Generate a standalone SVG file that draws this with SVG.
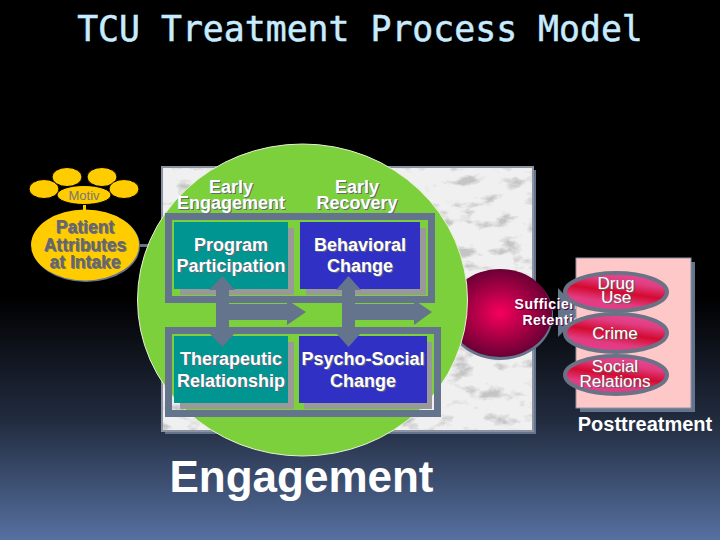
<svg xmlns="http://www.w3.org/2000/svg" width="720" height="540" viewBox="0 0 720 540">
<style>
text{font-family:"Liberation Sans",Arial,sans-serif;text-anchor:middle}
.wn{fill:#fff;font-size:17px;text-shadow:1px 1px 0 #666}
.s{fill:#fff;font-size:18px;font-weight:700;text-shadow:1px 1px 0 #667}
.y{fill:#666;font-weight:700;font-size:17.500px;text-shadow:1px 1px 0 #777}
.fr{fill:none;stroke:#64748c;stroke-width:7}
.ar{fill:#64748c}
.yl{fill:#fc0}
.ov{fill:url(#red);stroke:#6b7286;stroke-width:4}
.sr{font-size:14px;font-weight:700;fill:#fff;letter-spacing:.5px;text-shadow:1px 1px 0 #503}
</style>
<defs>
<linearGradient id="bg" x1="0" y1="0" x2="0" y2="1"><stop offset="0.55" stop-color="#000"/><stop offset="0.78" stop-color="#222c40"/><stop offset="1" stop-color="#5670a0"/></linearGradient>
<radialGradient id="sph" cx="0.5" cy="0.5" r="0.55"><stop offset="0" stop-color="#f8005c"/><stop offset="1" stop-color="#5c0030"/></radialGradient>
<linearGradient id="red" x1="0.7" y1="0" x2="0.3" y2="1"><stop offset="0" stop-color="#e84c98"/><stop offset="0.25" stop-color="#e03c80"/><stop offset="0.5" stop-color="#d40a30"/><stop offset="0.75" stop-color="#e03c80"/><stop offset="1" stop-color="#e83c90"/></linearGradient>
<filter id="marble" x="0" y="0" width="1" height="1"><feTurbulence type="fractalNoise" baseFrequency="0.04 0.07" numOctaves="6" seed="11"/><feColorMatrix values="0 0 0 0 0.55 0 0 0 0 0.55 0 0 0 0 0.55 4.500 0 0 0 -2.400"/><feComposite in2="SourceGraphic" operator="in" result="n"/><feMerge><feMergeNode in="SourceGraphic"/><feMergeNode in="n"/></feMerge></filter>
</defs>
<rect width="720" height="540" fill="url(#bg)"/>
<text x="360" y="41" style="font-family:'DejaVu Sans Mono',monospace;font-size:34.800px;fill:#c8ecff;stroke:#c8ecff;stroke-width:.5">TCU Treatment Process Model</text>
<g id="attributes">
<rect x="140" y="244" width="14" height="3" fill="#64748c"/>
<rect x="83" y="204" width="3" height="10" fill="#fc0"/>
<g stroke="#000" stroke-width="1"><ellipse class="yl" cx="44" cy="189" rx="15" ry="9.500"/><ellipse class="yl" cx="67" cy="177" rx="15" ry="9.500"/><ellipse class="yl" cx="102" cy="177" rx="15" ry="9.500"/><ellipse class="yl" cx="124" cy="189" rx="15" ry="9.500"/><ellipse class="yl" cx="84" cy="195" rx="27" ry="9.500"/></g>
<text x="84" y="200" style="font-size:13px;fill:#777">Motiv</text>
<ellipse cx="86" cy="246" rx="54" ry="36" fill="#64748c"/>
<ellipse class="yl" cx="85" cy="245" rx="54" ry="35.500"/>
<text class="y" x="85" y="233">Patient</text><text class="y" x="85" y="251">Attributes</text><text class="y" x="85" y="268">at Intake</text>
</g>
<g id="panel">
<rect x="165" y="170" width="371" height="264" fill="#64748c"/>
<rect x="162" y="167" width="371" height="264" fill="#f0f0f0" filter="url(#marble)"/>
<rect x="162" y="167" width="371" height="264" fill="none" stroke="#8c94a4" stroke-width="2"/>
</g>
<g id="retention">
<ellipse cx="500" cy="315" rx="53" ry="45" fill="#64748c"/>
<ellipse cx="500" cy="313" rx="52" ry="44" fill="url(#sph)"/>
</g>
<g id="engagement">
<ellipse cx="302.500" cy="300" rx="165" ry="156" fill="#7cd03c" stroke="#e8f0d8" stroke-width="1"/>
<text class="s" x="231" y="193">Early</text><text class="s" x="231" y="209">Engagement</text>
<text class="s" x="357" y="193">Early</text><text class="s" x="357" y="209">Recovery</text>
</g>
<g id="program"><rect x="180" y="228" width="114" height="67" fill="#999"/><rect x="174" y="222" width="114" height="67" fill="#009590"/><text class="s" x="231" y="251">Program</text><text class="s" x="231" y="272">Participation</text></g>
<g id="behavioral"><rect x="306" y="228" width="120" height="67" fill="#999"/><rect x="300" y="222" width="120" height="67" fill="#3030c4"/><text class="s" x="360" y="251">Behavioral</text><text class="s" x="360" y="272">Change</text></g>
<g id="therapeutic"><rect x="180" y="342" width="114" height="67" fill="#999"/><rect x="174" y="336" width="114" height="67" fill="#009590"/><text class="s" x="231" y="365">Therapeutic</text><text class="s" x="231" y="387">Relationship</text></g>
<g id="psychosocial"><rect x="304" y="342" width="128" height="67" fill="#999"/><rect x="299" y="336" width="128" height="67" fill="#3030c4"/><text class="s" x="363" y="365">Psycho-Social</text><text class="s" x="363" y="387">Change</text></g>
<g id="connectors">
<rect class="fr" x="168.500" y="216.500" width="263" height="83"/>
<rect class="fr" x="168.500" y="330.500" width="269" height="83"/>
<polygon class="ar" points="229,304 287,304 287,300 306,312 287,325 287,320 229,320"/>
<polygon class="ar" points="355,304 414,304 414,300 432,312 414,325 414,320 355,320"/>
<polygon class="ar" points="222.500,276 235,290 229,290 229,333 235,333 222.500,347 209,333 216,333 216,290 209,290"/>
<polygon class="ar" points="348.500,276 361,290 355,290 355,333 361,333 348.500,347 336,333 342,333 342,290 336,290"/>
<polygon class="ar" points="558,288 582,313 558,337"/>
</g>
<text x="549" y="309" class="sr">Sufficient</text>
<text x="557" y="325" class="sr">Retention</text>
<g id="posttreatment">
<rect x="580" y="262" width="115" height="150" fill="#64748c"/>
<rect x="576" y="258" width="115" height="150" fill="#ffc8c8" stroke="#8c94a4"/>
<ellipse class="ov" cx="616" cy="292" rx="51" ry="19"/><text x="616" y="289" class="wn">Drug</text><text x="616" y="303" class="wn">Use</text>
<ellipse class="ov" cx="616" cy="333" rx="51" ry="19"/><text x="615" y="339" class="wn">Crime</text>
<ellipse class="ov" cx="616" cy="375" rx="51" ry="19"/><text x="615" y="372" class="wn">Social</text><text x="615" y="387" class="wn">Relations</text>
<text x="645" y="431" style="font-size:20px;font-weight:700;fill:#fff">Posttreatment</text>
</g>
<text x="301.500" y="492" style="font-size:44px;font-weight:700;fill:#fff">Engagement</text>
</svg>
